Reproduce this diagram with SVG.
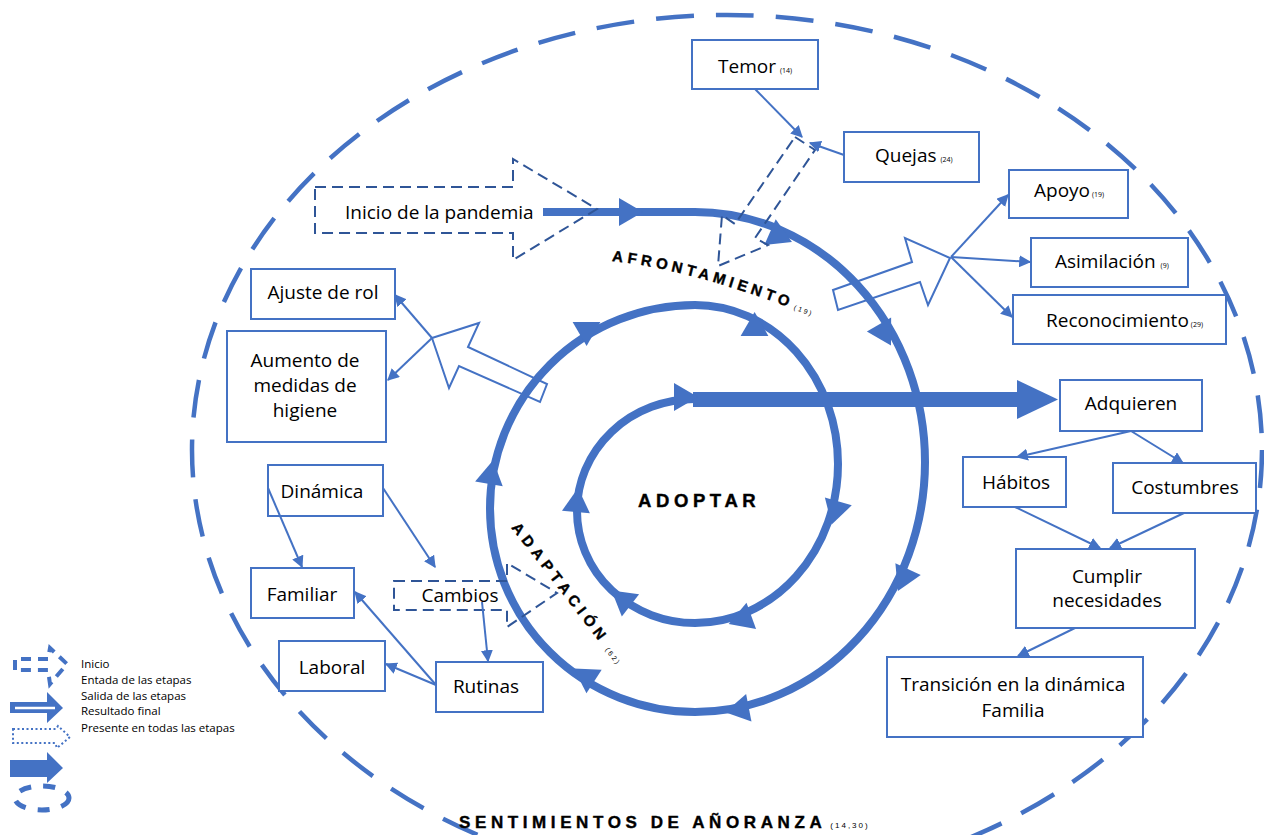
<svg xmlns="http://www.w3.org/2000/svg" width="1264" height="835" viewBox="0 0 1264 835">
<style>
.box{fill:#fff;stroke:#4472C4;stroke-width:2}
.t{font-family:"Open Sans","Liberation Sans",sans-serif;font-size:19px;fill:#000}
.c{text-anchor:middle}
.sm{font-size:7px}
.lg{font-family:"Open Sans","Liberation Sans",sans-serif;font-size:11.5px;fill:#000}
.bold{font-family:"Liberation Sans",Arial,sans-serif;font-weight:bold;fill:#000;stroke:#000;stroke-width:0.4}
.small{font-family:"Liberation Sans",Arial,sans-serif;font-weight:normal;stroke:none}
.ln{fill:none;stroke:#4472C4;stroke-width:2;marker-end:url(#arr)}
.hollow{fill:none;stroke:#4472C4;stroke-width:2;stroke-linejoin:miter}
.dash{fill:none;stroke:#2F5597;stroke-width:2;stroke-dasharray:11 6}
.spiral{fill:none;stroke:#4472C4;stroke-width:8}
.ah{fill:#4472C4}
</style>
<defs>
<marker id="arr" viewBox="0 0 10 10" refX="9" refY="5" markerWidth="6" markerHeight="6" orient="auto" markerUnits="strokeWidth">
<path d="M0,0 L10,5 L0,10 z" fill="#4472C4"/>
</marker>
<path id="ah" d="M 12 0 L -12 -14 L -12 14 Z"/>
<path id="pAfr" d="M 612 261 Q 705 271 835 326"/>
<path id="pAda" d="M 511 528 Q 555 583 621 671"/>
</defs>

<!-- outer dashed ellipse -->
<ellipse id="outer" cx="727" cy="450" rx="535" ry="435" fill="none" stroke="#4472C4" stroke-width="4.5" stroke-dasharray="38 22"/>

<!-- hollow stage exit arrows -->
<g id="stage-exit-arrows">
<polygon class="hollow" points="833,290 912,262 905,238 950,258 928,305 920,282 838,310"/>
<polygon class="hollow" points="432,338 479,323 468,347 547,384 540,402 459,366 449,388"/>
</g>

<!-- spiral -->
<g id="spiral">
<path class="spiral" d="M 543 212 L 695 212 A 230 250 0 0 1 695 712 A 205 203.5 0 0 1 695 305 A 143 159 0 0 1 695 623 A 118 112 0 0 1 695 399"/>
<rect x="693" y="392" width="326" height="15" fill="#4472C4"/>
<polygon class="ah" points="1017,380 1058,399.5 1017,419"/>
<use href="#ah" class="ah" transform="translate(631,212) rotate(0)"/>
<use href="#ah" class="ah" transform="translate(781,237) rotate(24)"/>
<use href="#ah" class="ah" transform="translate(885,335) rotate(60)"/>
<use href="#ah" class="ah" transform="translate(903,580) rotate(115)"/>
<use href="#ah" class="ah" transform="translate(737,710) rotate(169)"/>
<use href="#ah" class="ah" transform="translate(584,675) rotate(213)"/>
<use href="#ah" class="ah" transform="translate(491,472) rotate(-80)"/>
<use href="#ah" class="ah" transform="translate(590,328) rotate(-30)"/>
<use href="#ah" class="ah" transform="translate(758,330) rotate(30)"/>
<use href="#ah" class="ah" transform="translate(835,513) rotate(106)"/>
<use href="#ah" class="ah" transform="translate(740,620) rotate(160)"/>
<use href="#ah" class="ah" transform="translate(621,598) rotate(218)"/>
<use href="#ah" class="ah" transform="translate(577,500) rotate(-85)"/>
<use href="#ah" class="ah" transform="translate(686,397) rotate(0)"/>
</g>

<!-- dashed arrows -->
<g id="inicio">
<polygon class="dash" points="315,187 513,187 513,159 597,209 513,260 513,233 315,233"/>
<text class="t" x="345" y="219">Inicio de la pandemia</text>
</g>
<g id="entrada-afrontamiento">
<polygon class="dash" points="795,137 815,150 755,238 768,245 718,266 722,215 735,224"/>
</g>
<g id="cambios">
<polygon class="dash" points="394,581 507,581 507,563 557,593 507,627 507,610 394,610"/>
<text class="t c" x="460" y="602">Cambios</text>
</g>

<!-- labels -->
<text class="bold" font-size="15" letter-spacing="4.3"><textPath href="#pAfr">AFRONTAMIENTO<tspan class="small" font-size="7" letter-spacing="2" dx="2">(19)</tspan></textPath></text>
<text class="bold" font-size="15" letter-spacing="4.9"><textPath href="#pAda">ADAPTACIÓN<tspan class="small" font-size="7" letter-spacing="2" dx="6">(62)</tspan></textPath></text>
<text class="bold" x="638" y="507" font-size="18.5" letter-spacing="4.6">ADOPTAR</text>
<text class="bold" x="459" y="828" font-size="17" letter-spacing="4.6">SENTIMIENTOS DE AÑORANZA<tspan class="small" font-size="8" letter-spacing="2" dx="4">(14,30)</tspan></text>

<!-- nodes -->
<g id="temor"><rect class="box" x="692" y="40" width="126" height="49"/><text class="t" x="718" y="73">Temor<tspan class="sm" dx="4">(14)</tspan></text></g>
<g id="quejas"><rect class="box" x="844" y="132" width="135" height="50"/><text class="t" x="875" y="162">Quejas<tspan class="sm" dx="4">(24)</tspan></text></g>
<g id="apoyo"><rect class="box" x="1009" y="170" width="119" height="48"/><text class="t" x="1034" y="197">Apoyo<tspan class="sm" dx="2">(19)</tspan></text></g>
<g id="asimilacion"><rect class="box" x="1031" y="238" width="157" height="49"/><text class="t" x="1055" y="268">Asimilación<tspan class="sm" dx="5">(9)</tspan></text></g>
<g id="reconocimiento"><rect class="box" x="1013" y="295" width="213" height="49"/><text class="t" x="1046" y="327">Reconocimiento<tspan class="sm" dx="2">(29)</tspan></text></g>
<g id="ajuste"><rect class="box" x="251" y="269" width="144" height="50"/><text class="t c" x="323" y="299">Ajuste de rol</text></g>
<g id="aumento"><rect class="box" x="227" y="331" width="159" height="111"/><text class="t c" x="305"><tspan x="305" y="367">Aumento de</tspan><tspan x="305" y="392">medidas de</tspan><tspan x="305" y="417">higiene</tspan></text></g>
<g id="dinamica"><rect class="box" x="268" y="465" width="115" height="51"/><text class="t c" x="322" y="498">Dinámica</text></g>
<g id="familiar"><rect class="box" x="251" y="568" width="103" height="50"/><text class="t c" x="302" y="601">Familiar</text></g>
<g id="laboral"><rect class="box" x="279" y="641" width="106" height="50"/><text class="t c" x="332" y="674">Laboral</text></g>
<g id="rutinas"><rect class="box" x="436" y="662" width="107" height="50"/><text class="t c" x="486" y="693">Rutinas</text></g>
<g id="adquieren"><rect class="box" x="1060" y="380" width="142" height="51"/><text class="t c" x="1131" y="410">Adquieren</text></g>
<g id="habitos"><rect class="box" x="963" y="457" width="103" height="50"/><text class="t c" x="1016" y="489">Hábitos</text></g>
<g id="costumbres"><rect class="box" x="1113" y="463" width="143" height="50"/><text class="t c" x="1185" y="494">Costumbres</text></g>
<g id="cumplir"><rect class="box" x="1016" y="549" width="179" height="79"/><text class="t c"><tspan x="1107" y="583">Cumplir</tspan><tspan x="1107" y="607">necesidades</tspan></text></g>
<g id="transicion"><rect class="box" x="887" y="657" width="256" height="80"/><text class="t c"><tspan x="1013" y="691">Transición en la dinámica</tspan><tspan x="1013" y="717">Familia</tspan></text></g>

<!-- connectors -->
<g id="connectors">
<line class="ln" x1="755" y1="89" x2="802" y2="137"/>
<line class="ln" x1="844" y1="155" x2="810" y2="143"/>
<line class="ln" x1="951" y1="257" x2="1008" y2="195"/>
<line class="ln" x1="951" y1="257" x2="1030" y2="262"/>
<line class="ln" x1="951" y1="257" x2="1012" y2="317"/>
<line class="ln" x1="432" y1="338" x2="395" y2="295"/>
<line class="ln" x1="432" y1="338" x2="388" y2="380"/>
<line class="ln" x1="268" y1="488" x2="302" y2="567"/>
<line class="ln" x1="383" y1="488" x2="435" y2="567"/>
<line class="ln" x1="482" y1="602" x2="488" y2="661"/>
<line class="ln" x1="436" y1="685" x2="355" y2="592"/>
<line class="ln" x1="436" y1="685" x2="386" y2="664"/>
<line class="ln" x1="1131" y1="431" x2="1017" y2="457"/>
<line class="ln" x1="1131" y1="431" x2="1183" y2="463"/>
<line class="ln" x1="1015" y1="507" x2="1100" y2="548"/>
<line class="ln" x1="1184" y1="513" x2="1110" y2="548"/>
<line class="ln" x1="1075" y1="628" x2="1018" y2="656"/>
</g>

<!-- legend -->
<g id="legend">
<path d="M 15 670 L 15 659 L 48 659 L 50 648 L 67 664 L 50 684 L 48 670 Z" fill="none" stroke="#4472C4" stroke-width="4" stroke-dasharray="10 7"/>
<polygon points="10,702 47,702 47,692 63,708 47,723 47,713 10,713" fill="#4472C4"/>
<path d="M 15 708 L 55 708" stroke="#fff" stroke-width="2.5"/>
<polygon points="13,729 56,729 58,726 70,737 57,748 55,743 13,743" fill="none" stroke="#4472C4" stroke-width="2" stroke-dasharray="2 2.5"/>
<polygon points="10,760 47,760 47,752 63,768 47,783 47,777 10,777" fill="#4472C4"/>
<ellipse cx="42" cy="798" rx="27" ry="12" fill="none" stroke="#4472C4" stroke-width="5" stroke-dasharray="12 12"/>
<text class="lg" x="81" y="668">Inicio</text>
<text class="lg" x="81" y="684">Entada de las etapas</text>
<text class="lg" x="81" y="700">Salida de las etapas</text>
<text class="lg" x="81" y="715">Resultado final</text>
<text class="lg" x="81" y="732">Presente en todas las etapas</text>
</g>
</svg>
